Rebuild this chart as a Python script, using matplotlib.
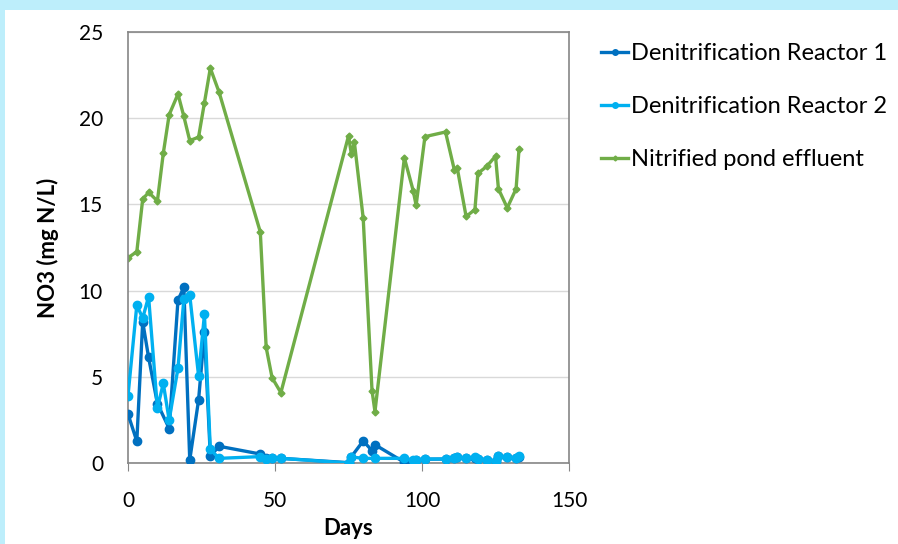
import matplotlib
matplotlib.use("Agg")
import matplotlib.pyplot as plt
from matplotlib.patches import Rectangle
from matplotlib.lines import Line2D

# Sampling days and nitrate concentrations (mg N/L)
days_r1 = [0, 3, 5, 7, 10, 14, 17, 19, 21, 24, 26, 28, 31, 45, 47, 49, 52, 75, 76, 80, 83, 84,
           94, 97, 98, 101, 108, 111, 112, 115, 118, 119, 122, 125, 126, 129, 132, 133]
no3_r1 = [2.84, 1.26, 8.2, 6.13, 3.45, 2.0, 9.45, 10.19, 0.17, 3.65, 7.57, 0.41, 0.97, 0.52, 0.3, 0.27,
          0.27, 0.02, 0.37, 1.28, 0.72, 1.06, 0.04, 0.12, 0.15, 0.22, 0.23, 0.3, 0.35, 0.27, 0.3, 0.23,
          0.2, 0.1, 0.4, 0.35, 0.3, 0.35]

days_r2 = [0, 3, 5, 7, 10, 12, 14, 17, 19, 21, 24, 26, 28, 31, 45, 47, 49, 52, 75, 76, 80, 84,
           94, 97, 98, 101, 108, 111, 112, 115, 118, 119, 122, 125, 126, 129, 132, 133]
no3_r2 = [3.9, 9.16, 8.4, 9.65, 3.17, 4.62, 2.49, 5.5, 9.5, 9.74, 5.06, 8.62, 0.79, 0.27, 0.37, 0.21,
          0.27, 0.27, 0.0, 0.35, 0.27, 0.27, 0.27, 0.17, 0.2, 0.23, 0.23, 0.3, 0.33, 0.27, 0.33, 0.23,
          0.17, 0.12, 0.41, 0.33, 0.3, 0.4]

days_pond = [0, 3, 5, 7, 10, 12, 14, 17, 19, 21, 24, 26, 28, 31, 45, 47, 49, 52, 75, 76, 77, 80,
             83, 84, 94, 97, 98, 101, 108, 111, 112, 115, 118, 119, 122, 125, 126, 129, 132, 133]
no3_pond = [11.9, 12.26, 15.3, 15.7, 15.2, 17.96, 20.2, 21.4, 20.1, 18.7, 18.9, 20.9, 22.9, 21.5,
            13.4, 6.7, 4.95, 4.08, 18.97, 17.9, 18.6, 14.2, 4.2, 2.98, 17.7, 15.8, 14.95, 18.93,
            19.2, 17.0, 17.1, 14.3, 14.7, 16.8, 17.2, 17.8, 15.9, 14.8, 15.9, 18.2]

series_labels = ["Denitrification Reactor 1", "Denitrification Reactor 2", "Nitrified pond effluent"]
x_ticks = [0, 50, 100, 150]
y_ticks = [0, 5, 10, 15, 20, 25]

plt.rcParams['font.family'] = ['Lato', 'DejaVu Sans']

W, H = 898, 544
fig = plt.figure(figsize=(W / 100, H / 100), dpi=100)
fig.patch.set_facecolor('#bdeefb')
# white panel over the light-blue frame
fig.patches.append(Rectangle((5 / W, 0), 1, 1 - 10 / H, transform=fig.transFigure,
                             facecolor='white', edgecolor='none', zorder=-10))

ax = fig.add_axes([128 / W, (H - 463) / H, (569 - 128) / W, (463 - 32) / H])
ax.set_zorder(2)
ax.set_facecolor('white')

c1, c2, c3 = '#0070c0', '#00b0f0', '#70ad47'
ax.plot(days_r1, no3_r1, color=c1, lw=2.4, marker='o', ms=6, zorder=3, label=series_labels[0])
ax.plot(days_r2, no3_r2, color=c2, lw=2.4, marker='o', ms=6, zorder=4, label=series_labels[1])
ax.plot(days_pond, no3_pond, color=c3, lw=2.4, marker='D', ms=3.5, zorder=2, label=series_labels[2])

ax.set_xlim(0, 150)
ax.set_ylim(0, 25)
ax.set_xticks(x_ticks)
ax.set_yticks(y_ticks)
ax.yaxis.grid(True, color='#d9d9d9', lw=1)
ax.set_axisbelow(True)
for s in ax.spines.values():
    s.set_color('#868686')
    s.set_linewidth(1.2)
ax.tick_params(axis='x', length=6, color='#868686', labelsize=15, pad=14)
ax.tick_params(axis='y', length=0, labelsize=15, pad=18)

ax.set_xlabel('Days', fontsize=16, fontweight='bold', labelpad=5)
ax.set_ylabel('NO3 (mg N/L)', fontsize=16, fontweight='bold', labelpad=14)

handles = [Line2D([], [], color=c1, lw=2.4, marker='o', ms=4),
           Line2D([], [], color=c2, lw=2.4, marker='o', ms=4),
           Line2D([], [], color=c3, lw=2.4, marker='D', ms=2.5)]
leg = fig.legend(handles, series_labels, loc='upper left', bbox_to_anchor=(580 / W, 1 - 22 / H),
                 frameon=False, fontsize=17, handlelength=1.15, handletextpad=0.1, labelspacing=1.35)
leg.set_zorder(3)

fig.savefig('out.png', dpi=100, facecolor=fig.get_facecolor())
